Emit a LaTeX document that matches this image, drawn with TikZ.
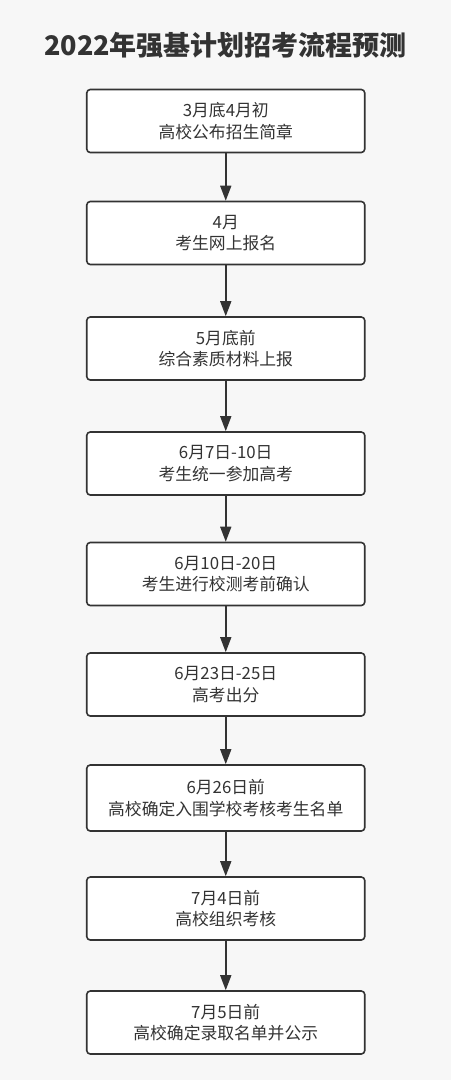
\documentclass[tikz,border=0pt]{standalone}
\usepackage{fontspec}
\setmainfont{Noto Sans CJK SC}
\usetikzlibrary{arrows.meta}
\definecolor{bg}{HTML}{F7F7F7}
\definecolor{ink}{HTML}{333333}
\tikzset{
  stepbox/.style={draw=ink, line width=1.6pt, rounded corners=3.5pt, fill=white,
    minimum width=278pt, minimum height=63pt, align=center, text=ink,
    font=\fontsize{16.8pt}{21.5pt}\selectfont, inner sep=0pt},
  flow/.style={draw=ink, line width=1.6pt, -{Triangle[width=11pt,length=15pt]}}
}
\begin{document}
\begin{tikzpicture}[x=1pt,y=-1pt]
\fill[bg] (0,0) rectangle (451,1080);
\useasboundingbox (0,0) rectangle (451,1080);
\node[text=ink, font=\fontsize{27pt}{30pt}\selectfont\bfseries] (title) at (225.5,45) {2022年强基计划招考流程预测};
\node[stepbox] (b1) at (225.75,121) {3月底4月初\\高校公布招生简章};
\node[stepbox] (b2) at (225.75,233) {4月\\考生网上报名};
\node[stepbox] (b3) at (225.75,348.5) {5月底前\\综合素质材料上报};
\node[stepbox] (b4) at (225.75,463.5) {6月7日-10日\\考生统一参加高考};
\node[stepbox] (b5) at (225.75,574) {6月10日-20日\\考生进行校测考前确认};
\node[stepbox] (b6) at (225.75,684.5) {6月23日-25日\\高考出分};
\node[stepbox, minimum height=66pt] (b7) at (225.75,798) {6月26日前\\高校确定入围学校考核考生名单};
\node[stepbox] (b8) at (225.75,908.5) {7月4日前\\高校组织考核};
\node[stepbox] (b9) at (225.75,1022.5) {7月5日前\\高校确定录取名单并公示};
\foreach \a/\b in {b1/b2,b2/b3,b3/b4,b4/b5,b5/b6,b6/b7,b7/b8,b8/b9}
  \draw[flow] (\a) -- (\b);
\end{tikzpicture}
\end{document}
